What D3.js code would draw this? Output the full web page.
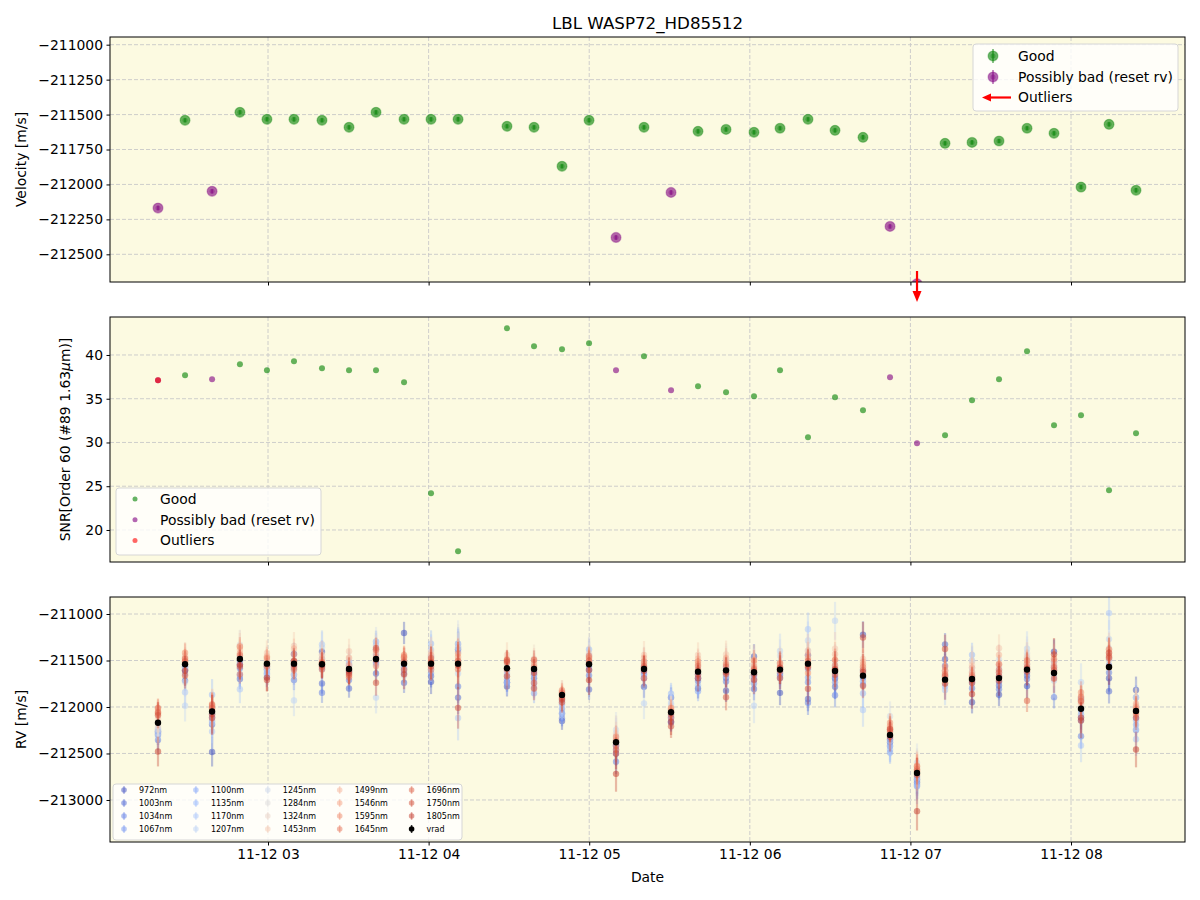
<!DOCTYPE html>
<html>
<head>
<meta charset="utf-8">
<script src="https://cdn.jsdelivr.net/npm/d3@7"></script>
<style>
    body {margin: 0; background: #fff;}
    svg {font-family: "DejaVu Sans", sans-serif;}
</style>
</head>
<body>
<svg id="chart" width="1200" height="900"></svg>
<script>
const obsTimes = ["02:18:54", "02:29:00", "02:39:06", "02:49:30", "02:59:36", "03:09:42", "03:20:10", "03:30:16",
    "03:40:21", "03:50:49", "04:00:54", "04:11:00", "04:29:17", "04:39:23", "04:49:50", "04:59:56", "05:10:01",
    "05:20:28", "05:30:34", "05:40:39", "05:51:07", "06:01:34", "06:11:17", "06:21:44", "06:31:50", "06:42:17",
    "06:52:23", "07:02:28", "07:12:56", "07:23:01", "07:33:06", "07:43:34", "07:53:39", "08:03:44", "08:14:12",
    "08:24:17"]
const velocity = [-212169, -211541, -212049, -211484, -211534, -211534, -211541, -211591, -211484, -211534, -211534,
    -211534, -211584, -211591, -211870, -211541, -212379, -211591, -212057, -211620, -211606, -211627, -211598,
    -211534, -211613, -211663, -212300, -212710, -211706, -211699, -211689, -211598, -211634, -212019, -211570,
    -212042]
const velErr = [16, 14, 15, 14, 14, 15, 14, 15, 14, 14, 15, 16, 14, 15, 15, 14, 16, 15, 16, 15, 15, 15, 14, 15, 15,
    16, 16, 18, 15, 15, 15, 15, 15, 16, 15, 16]
const snr = [37.1, 37.68, 37.22, 38.94, 38.25, 39.28, 38.48, 38.25, 38.25, 36.88, 24.19, 17.57, 43.05, 40.99, 40.65,
    41.34, 38.25, 39.85, 35.97, 36.42, 35.74, 35.28, 38.25, 30.59, 35.17, 33.68, 37.45, 29.91, 30.82, 34.82, 37.22,
    40.42, 31.97, 33.11, 24.54, 31.05]
const badEpochs = [0, 2, 16, 18, 26, 27]
const velOutliers = [27]
const snrOutliers = [0]

const wavelengths = [972, 1003, 1034, 1067, 1100, 1135, 1170, 1207, 1245, 1284, 1324, 1453, 1499, 1546, 1595, 1645,
    1696, 1750, 1805]
const bandErr = [120, 110, 110, 110, 120, 130, 150, 170, 160, 160, 170, 150, 110, 100, 100, 100, 110, 140, 160]
const epochErrScale = [1.0, 1.0, 1.3, 1.0, 0.9, 1.0, 1.0, 0.9, 1.0, 1.0, 1.1, 1.6, 0.9, 0.9, 0.8, 1.0, 1.2, 1.0,
    0.9, 0.9, 1.0, 1.1, 1.1, 1.2, 1.2, 1.2, 1.0, 1.3, 1.1, 1.0, 1.0, 1.1, 1.1, 1.2, 1.2, 1.2]
// per-epoch offsets of each band from vrad [m/s], columns follow `wavelengths`
const rvOffsets = [
    [-100, -130, -185, -95, -120, -80, -60, -150, -110, -70, -40, 40, 120, 150, 100, 160, 110, 80, -310],
    [-60, -175, -30, -65, -20, -100, -300, -445, -190, -40, 60, 90, 70, 40, 125, 60, 30, -120, -70],
    [-435, -140, -60, -20, -100, 180, -215, -120, -30, 40, 20, 50, 30, 60, 80, 70, 40, -70, -30],
    [-60, -215, -100, -30, -180, -160, -325, -50, 20, 155, 140, 130, 100, 60, 135, -165, 40, -80, -60],
    [-30, -20, -60, -150, -105, -90, -120, -60, -40, 20, 40, 115, 80, 50, 65, -30, -10, -175, -150],
    [105, 30, -175, -120, -60, -30, -20, -395, -115, 20, 40, 190, 160, 100, -65, -40, 20, 30, -10],
    [135, -205, -305, -50, -20, 60, 215, 180, 100, 30, 40, 100, 60, 20, 25, -55, -30, -10, 10],
    [-20, -210, -120, -40, 40, 60, 80, 30, -20, 50, 110, 190, 120, 40, -70, -90, -60, -40, -20],
    [105, -155, -40, 45, 185, 150, -60, -415, 185, 130, 90, 80, 60, 20, -75, 100, 120, -255, -10],
    [330, -205, -100, -40, -60, -20, 20, -80, -130, -50, 10, 40, 60, 80, 95, 70, 25, -65, -115],
    [-195, -135, 75, -100, -60, 215, 150, 30, -20, 100, 60, 125, 90, 40, -65, 20, 60, -30, 10],
    [155, -365, -245, 215, 180, 130, -585, -105, 210, 170, 60, 40, 20, 75, 110, -60, 30, -475, -20],
    [-195, -150, -155, -120, -60, -20, -155, -80, -40, 30, 50, 145, 100, 60, 85, -15, 90, 70, -85],
    [-100, -60, -20, -150, -260, -200, -130, -70, 20, 60, 110, 90, 70, 40, 20, -150, 100, -210, -40],
    [-280, -200, -250, -150, -100, -60, -200, -130, -80, -30, 20, 40, 30, 10, 50, 20, -30, -80, -50],
    [-60, -270, -120, -20, 20, 160, 100, 40, 10, 80, 120, 60, 30, 10, 70, 90, 40, -60, -170],
    [-30, -120, -210, -80, -40, 20, -10, 60, 133, 100, 80, 40, 20, 10, 60, -40, -80, -120, -340],
    [-190, -100, -60, -20, 20, -40, -80, -370, 40, 80, 60, 150, 120, 60, 80, -100, 30, 10, -20],
    [160, -110, -60, -100, -40, 200, 160, 100, 80, 30, 20, 40, 30, 10, 50, -60, -20, -150, -100],
    [-180, -70, -100, -30, -210, -150, -60, -20, 40, 60, 100, 180, 140, 80, 110, 60, 20, -30, -70],
    [-220, -80, -120, -40, 20, 40, -60, -30, 60, 100, 120, 170, 130, 80, 60, 40, -40, -290, -20],
    [170, -180, -80, -120, -40, -20, -60, -360, 40, 80, 60, 130, 100, 60, 130, 40, 20, -80, -20],
    [-250, -90, -40, -60, -20, 20, 60, 200, 150, 80, 40, 70, 60, 30, 70, -20, -90, 0, 20],
    [90, -380, -420, -200, -150, -60, 370, 250, 140, 60, 40, 140, 100, 60, -100, -20, 30, -270, -40],
    [-80, -170, -260, -120, -60, -20, 40, 540, 100, 60, 30, 240, 180, 120, 120, 60, 10, -40, 20],
    [440, -20, -100, 60, -60, -190, -370, 20, 70, 40, 100, 180, 150, 120, 90, 60, -110, 410, 40],
    [-50, -80, -120, -30, -190, -160, -120, -60, 200, 60, 20, 80, 100, 80, 130, 60, 40, 60, -20],
    [-70, -100, -40, -140, -120, -80, -140, -60, 110, 60, 30, 40, 80, 70, 70, 40, 20, -20, -410],
    [220, 380, 150, 100, 40, -70, -110, 20, 60, 80, 30, 40, 100, 90, 140, 60, 40, 330, -40],
    [-250, -40, -100, -20, 30, 260, 200, 120, 80, 60, 190, 150, 120, 70, 40, 20, -40, -10, -160],
    [-180, -80, -120, -40, 20, 90, 60, 140, 200, 120, 60, 320, 250, 150, 150, 90, 60, 20, -30],
    [-175, -65, -100, -30, 20, 60, 120, 225, 180, 150, 60, 130, 100, 60, 95, 30, -335, -20, 10],
    [230, 130, -260, 60, 30, 80, -40, -80, 120, 60, 30, 150, 120, 80, 150, 60, 30, -60, 200],
    [105, -95, -295, -125, -60, -20, -395, 285, 100, 60, 40, 60, 120, 90, 175, 130, 80, -95, -125],
    [-120, -260, -60, 20, 100, 80, 580, 300, 200, 150, 80, 190, 160, 100, 190, 120, 100, 150, 0],
    [225, -75, -205, 145, -150, -100, -305, -200, 145, 60, 40, 60, 80, 40, 20, -40, -75, -10, -415]
]

const velTicks = [-211000, -211250, -211500, -211750, -212000, -212250, -212500]
const snrTicks = [20, 25, 30, 35, 40]
const rvTicks = [-211000, -211500, -212000, -212500, -213000]

const parseTime = d3.timeParse("%Y-%m-%d %H:%M:%S");
const dates = obsTimes.map(t => parseTime("2023-11-12 " + t));

const left = 110, right = 1185, panelH = 245;
const tops = [37, 317, 597];
const bg = "#fcfae1";
const fontSize = 13.9;

const x = d3.scaleTime()
    .domain([parseTime("2023-11-12 02:00:58"), parseTime("2023-11-12 08:42:35")])
    .range([left, right]);
const y1 = d3.scaleLinear().domain([-212698, -210945]).range([tops[0] + panelH, tops[0]]);
const y2 = d3.scaleLinear().domain([16.34, 44.34]).range([tops[1] + panelH, tops[1]]);
const y3 = d3.scaleLinear().domain([-213452, -210817]).range([tops[2] + panelH, tops[2]]);

const coolwarm = d3.piecewise(d3.interpolateRgb, ["#3b4cc0", "#5977e3", "#7b9ff9", "#9ebeff", "#c0d4f5",
    "#dddcdc", "#f2cbb7", "#f7ac8e", "#ee8468", "#dc5f48", "#c43c2e"]);
const bandColor = i => coolwarm(i / (wavelengths.length - 1));

const svg = d3.select("#chart");
const minus = v => d3.format("d")(v).replace("-", "\u2212");
const hourTicks = d3.timeHour.range(x.domain()[0], x.domain()[1]);

svg.append("defs").selectAll("clipPath")
    .data(tops)
    .join("clipPath")
    .attr("id", (d, i) => "clip" + i)
    .append("rect")
    .attr("x", left).attr("y", d => d)
    .attr("width", right - left).attr("height", panelH);

function panel(i, y, ticks) {
    const top = tops[i];
    svg.append("rect")
        .attr("x", left).attr("y", top)
        .attr("width", right - left).attr("height", panelH)
        .attr("fill", bg);

    const grid = svg.append("g")
        .attr("stroke", "#c8c8c8")
        .attr("stroke-width", 0.9)
        .attr("stroke-dasharray", "4,2");
    grid.selectAll(".gx")
        .data(hourTicks)
        .join("line")
        .attr("x1", d => x(d)).attr("x2", d => x(d))
        .attr("y1", top).attr("y2", top + panelH);
    grid.selectAll(".gy")
        .data(ticks)
        .join("line")
        .attr("x1", left).attr("x2", right)
        .attr("y1", d => y(d)).attr("y2", d => y(d));

    return svg.append("g").attr("clip-path", `url(#clip${i})`);
}

function frame(i, y, ticks, fmt, showDates) {
    const top = tops[i];
    svg.append("rect")
        .attr("x", left).attr("y", top)
        .attr("width", right - left).attr("height", panelH)
        .attr("fill", "none")
        .attr("stroke", "#000")
        .attr("stroke-width", 1);

    svg.append("g")
        .attr("transform", `translate(${left},0)`)
        .call(d3.axisLeft(y).tickValues(ticks).tickSize(3.5).tickPadding(3.5).tickFormat(fmt))
        .call(g => g.select(".domain").remove())
        .call(g => g.selectAll("text").attr("font-size", fontSize).attr("fill", "#000")
            .attr("font-family", "DejaVu Sans"));

    svg.append("g")
        .attr("transform", `translate(0,${top + panelH})`)
        .call(d3.axisBottom(x).tickValues(hourTicks).tickSize(3.5).tickPadding(3.5)
            .tickFormat(showDates ? d3.timeFormat("%m-%d %H") : ""))
        .call(g => g.select(".domain").remove())
        .call(g => g.selectAll("text").attr("font-size", fontSize).attr("fill", "#000")
            .attr("font-family", "DejaVu Sans"));
}

function errMarker(g, cx, cy, r, color, err, opacity) {
    g.append("line")
        .attr("x1", cx).attr("x2", cx)
        .attr("y1", cy - err).attr("y2", cy + err)
        .attr("stroke", color).attr("stroke-width", 1.5)
        .attr("stroke-opacity", opacity);
    g.append("circle")
        .attr("cx", cx).attr("cy", cy).attr("r", r)
        .attr("fill", color).attr("fill-opacity", opacity)
        .attr("stroke", color).attr("stroke-opacity", opacity * 0.5).attr("stroke-width", 1.2);
    g.append("circle")
        .attr("cx", cx).attr("cy", cy).attr("r", r * 0.5)
        .attr("fill", color).attr("fill-opacity", opacity * 0.6);
}

// panel 1: velocity
const p1 = panel(0, y1, velTicks);
const epochs = d3.range(dates.length);
epochs.forEach(i => {
    const color = badEpochs.includes(i) ? "#800080" : "#008000";
    errMarker(p1, x(dates[i]), y1(velocity[i]), 5, color, Math.abs(y1(velocity[i] + velErr[i]) - y1(velocity[i])), 0.6);
});
frame(0, y1, velTicks, minus, false);

velOutliers.forEach(i => {
    const ax = x(dates[i]);
    svg.append("line")
        .attr("x1", ax).attr("x2", ax)
        .attr("y1", 271).attr("y2", 292)
        .attr("stroke", "red").attr("stroke-width", 2.2);
    svg.append("path")
        .attr("d", `M${ax - 4.5},${291} L${ax + 4.5},${291} L${ax},${302} Z`)
        .attr("fill", "red");
});

// panel 2: SNR
const p2 = panel(1, y2, snrTicks);
p2.selectAll("circle")
    .data(epochs)
    .join("circle")
    .attr("cx", i => x(dates[i]))
    .attr("cy", i => y2(snr[i]))
    .attr("r", 3)
    .attr("fill", i => badEpochs.includes(i) ? "#800080" : "#008000")
    .attr("fill-opacity", 0.6);
p2.selectAll(".out")
    .data(snrOutliers)
    .join("circle")
    .attr("cx", i => x(dates[i]))
    .attr("cy", i => y2(snr[i]))
    .attr("r", 3)
    .attr("fill", "#ff0000")
    .attr("fill-opacity", 0.6);
frame(1, y2, snrTicks, d3.format("d"), false);

// panel 3: per-band RV
const p3 = panel(2, y3, rvTicks);
wavelengths.forEach((w, b) => {
    const color = bandColor(b);
    const gb = p3.append("g");
    epochs.forEach(i => {
        const v = velocity[i] + rvOffsets[i][b];
        const e = bandErr[b] * epochErrScale[i];
        gb.append("line")
            .attr("x1", x(dates[i])).attr("x2", x(dates[i]))
            .attr("y1", y3(v + e)).attr("y2", y3(v - e))
            .attr("stroke", color).attr("stroke-width", 2.2).attr("stroke-opacity", 0.35);
        gb.append("circle")
            .attr("cx", x(dates[i])).attr("cy", y3(v)).attr("r", 3.2)
            .attr("fill", color).attr("fill-opacity", 0.5);
    });
});
epochs.forEach(i => {
    p3.append("line")
        .attr("x1", x(dates[i])).attr("x2", x(dates[i]))
        .attr("y1", y3(velocity[i] + velErr[i])).attr("y2", y3(velocity[i] - velErr[i]))
        .attr("stroke", "#000").attr("stroke-width", 1.5);
    p3.append("circle")
        .attr("cx", x(dates[i])).attr("cy", y3(velocity[i])).attr("r", 3.2)
        .attr("fill", "#000");
});
frame(2, y3, rvTicks, minus, true);

// titles and labels
svg.append("text")
    .attr("x", (left + right) / 2).attr("y", 29)
    .attr("text-anchor", "middle")
    .attr("font-size", 16.7)
    .text("LBL WASP72_HD85512");

svg.append("text")
    .attr("x", (left + right) / 2).attr("y", 882)
    .attr("text-anchor", "middle")
    .attr("font-size", fontSize)
    .text("Date");

const yLabel = (txt, cx, cy) => svg.append("text")
    .attr("transform", `translate(${cx},${cy}) rotate(-90)`)
    .attr("text-anchor", "middle")
    .attr("dy", "0.35em")
    .attr("font-size", fontSize)
    .text(txt);
yLabel("Velocity [m/s]", 21, tops[0] + panelH / 2);
yLabel("RV [m/s]", 21, tops[2] + panelH / 2);
const snrLabel = yLabel("", 65, tops[1] + panelH / 2);
snrLabel.append("tspan").text("SNR[Order 60 (#89 1.63");
snrLabel.append("tspan").attr("font-style", "italic").text("\u03bc");
snrLabel.append("tspan").text("m)]");

// legend 1
const leg1 = svg.append("g");
leg1.append("rect")
    .attr("x", 973).attr("y", 44).attr("width", 205).attr("height", 67)
    .attr("rx", 3).attr("fill", "#fff").attr("fill-opacity", 0.8)
    .attr("stroke", "#d6d6d6");
errMarker(leg1, 993, 56, 5, "#008000", 7, 0.6);
errMarker(leg1, 993, 77, 5, "#800080", 7, 0.6);
leg1.append("line")
    .attr("x1", 1011).attr("x2", 990).attr("y1", 97.5).attr("y2", 97.5)
    .attr("stroke", "red").attr("stroke-width", 2.2);
leg1.append("path")
    .attr("d", "M991,93.5 L991,101.5 L982,97.5 Z")
    .attr("fill", "red");
leg1.selectAll("text")
    .data(["Good", "Possibly bad (reset rv)", "Outliers"])
    .join("text")
    .attr("x", 1018).attr("y", (d, i) => 56 + i * 20.7)
    .attr("dy", "0.35em")
    .attr("font-size", fontSize)
    .text(d => d);

// legend 2
const leg2 = svg.append("g");
leg2.append("rect")
    .attr("x", 116).attr("y", 488).attr("width", 205).attr("height", 67)
    .attr("rx", 3).attr("fill", "#fff").attr("fill-opacity", 0.8)
    .attr("stroke", "#d6d6d6");
leg2.selectAll("circle")
    .data(["#008000", "#800080", "#ff0000"])
    .join("circle")
    .attr("cx", 135).attr("cy", (d, i) => 499 + i * 20.7)
    .attr("r", 2.5)
    .attr("fill", d => d).attr("fill-opacity", 0.6);
leg2.selectAll("text")
    .data(["Good", "Possibly bad (reset rv)", "Outliers"])
    .join("text")
    .attr("x", 160).attr("y", (d, i) => 499 + i * 20.7)
    .attr("dy", "0.35em")
    .attr("font-size", fontSize)
    .text(d => d);

// legend 3
const leg3 = svg.append("g");
leg3.append("rect")
    .attr("x", 113).attr("y", 784).attr("width", 349).attr("height", 56)
    .attr("rx", 3).attr("fill", "#fff").attr("fill-opacity", 0.8)
    .attr("stroke", "#d6d6d6");
const legItems = wavelengths.map((w, b) => ({label: w + "nm", color: bandColor(b), op: 0.5}))
    .concat([{label: "vrad", color: "#000", op: 1}]);
legItems.forEach((d, k) => {
    const col = Math.floor(k / 4), row = k % 4;
    const mx = 124 + col * 71.9, my = 790 + row * 13;
    leg3.append("line")
        .attr("x1", mx).attr("x2", mx).attr("y1", my - 4).attr("y2", my + 4)
        .attr("stroke", d.color).attr("stroke-width", 1.5).attr("stroke-opacity", d.op * 0.8);
    leg3.append("circle")
        .attr("cx", mx).attr("cy", my).attr("r", 2.8)
        .attr("fill", d.color).attr("fill-opacity", d.op);
    leg3.append("text")
        .attr("x", mx + 15).attr("y", my)
        .attr("dy", "0.35em")
        .attr("font-size", 8)
        .text(d.label);
});
</script>
</body>
</html>
